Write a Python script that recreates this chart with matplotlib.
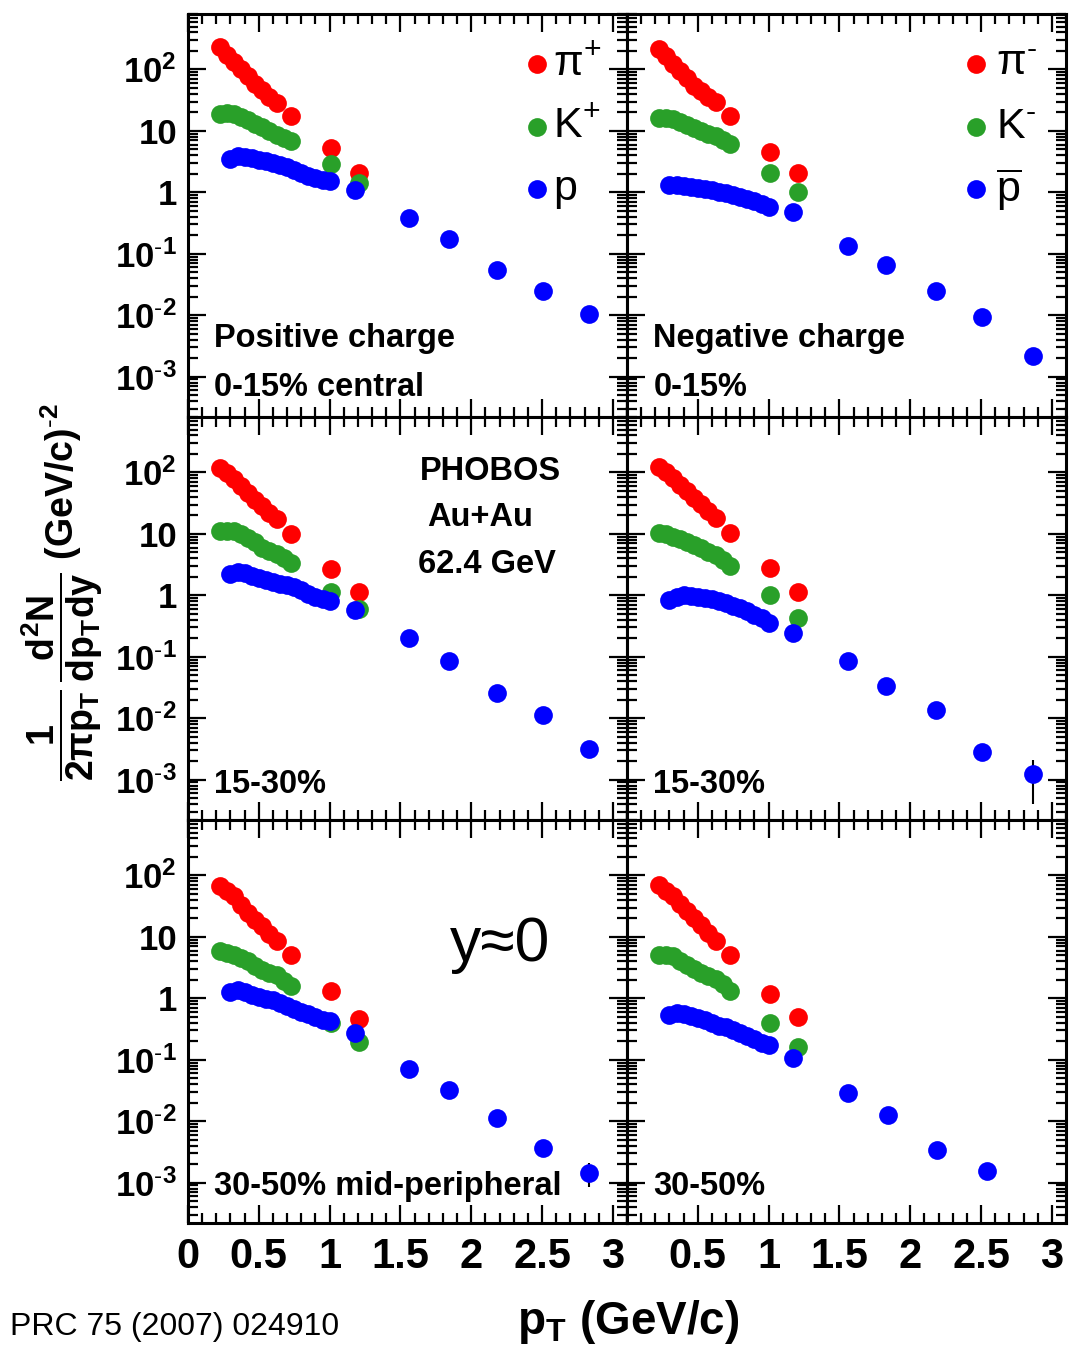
import numpy as np
import matplotlib
matplotlib.use("Agg")
import matplotlib.pyplot as plt
from matplotlib.ticker import FixedLocator, LogLocator, NullFormatter, FixedFormatter, MultipleLocator

plt.rcParams['font.family'] = ['Liberation Sans', 'DejaVu Sans']
plt.rcParams['mathtext.fontset'] = 'custom'
plt.rcParams['mathtext.rm'] = 'Liberation Sans'
plt.rcParams['mathtext.it'] = 'Liberation Sans:italic'
plt.rcParams['mathtext.bf'] = 'Liberation Sans:bold'

# ---- transverse-momentum grids (GeV/c) ----
pt_pi = [0.225, 0.275, 0.325, 0.375, 0.425, 0.475, 0.525, 0.575, 0.625, 0.725, 1.01, 1.21]
pt_k = [0.225, 0.275, 0.325, 0.375, 0.425, 0.475, 0.525, 0.575, 0.625, 0.675, 0.725, 1.01, 1.21]
pt_p = [0.30, 0.35, 0.40, 0.45, 0.50, 0.55, 0.60, 0.65, 0.70, 0.75, 0.80, 0.85, 0.90, 0.95, 1.00,
        1.18, 1.56, 1.84, 2.18, 2.51, 2.83]
pt_pbar = [0.30, 0.35, 0.40, 0.45, 0.50, 0.55, 0.60, 0.65, 0.70, 0.75, 0.80, 0.85, 0.90, 0.95, 1.00,
           1.17, 1.56, 1.83, 2.18, 2.51, 2.87]
pt_pbar_per = [0.30, 0.35, 0.40, 0.45, 0.50, 0.55, 0.60, 0.65, 0.70, 0.75, 0.80, 0.85, 0.90, 0.95, 1.00,
               1.17, 1.56, 1.84, 2.19, 2.54]

# ---- invariant yields, 0-15% ----
pip_0_15 = [230, 175, 130, 100, 78, 58, 46, 36, 28, 17.5, 5.2, 2.1]
kp_0_15 = [19, 19.5, 19, 17, 15, 13, 11.5, 10, 8.6, 7.6, 6.8, 2.9, 1.4]
p_0_15 = [3.5, 3.9, 3.8, 3.6, 3.4, 3.25, 3.0, 2.8, 2.6, 2.35, 2.05, 1.85, 1.7, 1.6, 1.55,
          1.09, 0.376, 0.177, 0.055, 0.0244, 0.0103]
pim_0_15 = [212, 165, 125, 95, 72, 53, 44, 36, 30, 17.7, 4.6, 2.09]
km_0_15 = [16.2, 16, 15.5, 14, 12.6, 11.2, 9.8, 9.0, 8.3, 7.0, 6.1, 2.09, 1.02]
pbar_0_15 = [1.31, 1.30, 1.26, 1.24, 1.18, 1.12, 1.09, 1.03, 0.96, 0.90, 0.85, 0.78, 0.72, 0.64, 0.58,
             0.47, 0.134, 0.0645, 0.0243, 0.0095, 0.0022]

# ---- invariant yields, 15-30% ----
pip_15_30 = [117, 98, 78, 60, 47, 36, 28.7, 22, 17.4, 10, 2.67, 1.12]
kp_15_30 = [11, 11.2, 11, 10, 8.7, 7.3, 6.0, 5.3, 4.7, 4.0, 3.4, 1.15, 0.6]
p_15_30 = [2.2, 2.36, 2.3, 2.1, 1.95, 1.8, 1.65, 1.55, 1.45, 1.35, 1.2, 1.05, 0.95, 0.88, 0.82,
           0.58, 0.2, 0.084, 0.026, 0.0112, 0.0032]
pim_15_30 = [125, 100, 80, 62, 50, 38, 31, 24, 18, 10.2, 2.75, 1.14]
km_15_30 = [10.2, 9.8, 9.0, 8.2, 7.5, 6.6, 5.8, 5.1, 4.5, 3.8, 3.0, 1.03, 0.42]
pbar_15_30 = [0.84, 0.95, 1.03, 0.98, 0.95, 0.90, 0.86, 0.80, 0.74, 0.68, 0.62, 0.56, 0.48, 0.42, 0.35,
              0.245, 0.085, 0.033, 0.0134, 0.0028, 0.00124]
pbar_15_30_err = [0]*20 + [0.00084]

# ---- invariant yields, 30-50% ----
pip_30_50 = [67, 55, 46, 33, 24.5, 19, 14.9, 11, 8.7, 5.0, 1.34, 0.46]
kp_30_50 = [5.8, 5.4, 5.1, 4.5, 4.0, 3.4, 2.9, 2.6, 2.4, 1.9, 1.56, 0.39, 0.198]
p_30_50 = [1.29, 1.38, 1.25, 1.12, 1.05, 0.98, 0.95, 0.85, 0.74, 0.68, 0.61, 0.55, 0.49, 0.45, 0.42,
           0.27, 0.071, 0.032, 0.0114, 0.0036, 0.00146]
p_30_50_err = [0]*20 + [0.0006]
pim_30_50 = [69, 56, 46, 34, 26, 20, 15.8, 11.5, 8.6, 5.0, 1.17, 0.50]
km_30_50 = [5.1, 5.0, 4.8, 4.1, 3.5, 3.0, 2.6, 2.3, 2.07, 1.7, 1.33, 0.39, 0.162]
pbar_30_50 = [0.54, 0.57, 0.56, 0.52, 0.48, 0.44, 0.40, 0.36, 0.336, 0.30, 0.268, 0.24, 0.216, 0.19, 0.172,
              0.107, 0.029, 0.0128, 0.0034, 0.00155]
pbar_30_50_err = [0]*19 + [0.0004]

RED, GREEN, BLUE = '#ff0000', '#29a029', '#0000ff'

panels = [
    # (row, col, pion, kaon, proton, proton pT, proton err, label lines)
    (0, 0, pip_0_15, kp_0_15, p_0_15, pt_p, None, ["Positive charge", "0-15% central"]),
    (0, 1, pim_0_15, km_0_15, pbar_0_15, pt_pbar, None, ["Negative charge", "0-15%"]),
    (1, 0, pip_15_30, kp_15_30, p_15_30, pt_p, None, ["15-30%"]),
    (1, 1, pim_15_30, km_15_30, pbar_15_30, pt_pbar, pbar_15_30_err, ["15-30%"]),
    (2, 0, pip_30_50, kp_30_50, p_30_50, pt_p, p_30_50_err, ["30-50% mid-peripheral"]),
    (2, 1, pim_30_50, km_30_50, pbar_30_50, pt_pbar_per, pbar_30_50_err, ["30-50%"]),
]

W, H = 1069, 1357
fig = plt.figure(figsize=(W / 100, H / 100), dpi=100)

x_left = [188 / W, 627 / W]
ax_w = 439 / W
row_top = [14, 417, 820]
ax_h = 403 / H
YMIN, YMAX = 2.2e-4, 800

ytick_vals = [1e-3, 1e-2, 1e-1, 1, 10, 100]
ytick_labs = [r'$\mathbf{10^{\text{-}3}}$', r'$\mathbf{10^{\text{-}2}}$', r'$\mathbf{10^{\text{-}1}}$',
              '1', '10', r'$\mathbf{10^{2}}$']

ms = 13.5
axes = {}
for row, col, pi, ka, pr, ptp, perr, labels in panels:
    bottom = 1 - (row_top[row] + 403) / H
    ax = fig.add_axes([x_left[col], bottom, ax_w, ax_h])
    axes[(row, col)] = ax
    ax.set_yscale('log')
    ax.set_xlim(0, 3.1)
    ax.set_ylim(YMIN, YMAX)

    ax.plot(pt_pi, pi, 'o', color=RED, ms=ms, mec='none', zorder=3)
    ax.plot(pt_k, ka, 'o', color=GREEN, ms=ms, mec='none', zorder=4)
    if perr is not None:
        ax.errorbar(ptp, pr, yerr=perr, fmt='none', ecolor='black', elinewidth=1.5, capsize=0, zorder=4.5)
    ax.plot(ptp, pr, 'o', color=BLUE, ms=ms, mec='none', zorder=5)

    for s in ax.spines.values():
        s.set_linewidth(2.2)
    ax.xaxis.set_major_locator(MultipleLocator(0.5))
    ax.xaxis.set_minor_locator(MultipleLocator(0.1))
    ax.yaxis.set_major_locator(FixedLocator(ytick_vals))
    ax.yaxis.set_minor_locator(LogLocator(base=10, subs=np.arange(2, 10), numticks=20))
    ax.yaxis.set_minor_formatter(NullFormatter())
    ax.tick_params(which='both', direction='in', top=True, right=True, width=1.6)
    ax.tick_params(which='major', length=13)
    ax.tick_params(which='minor', length=7)
    ax.tick_params(axis='x', which='major', labelsize=30, pad=10)

    if col == 0:
        ax.yaxis.set_major_formatter(FixedFormatter(ytick_labs))
        ax.tick_params(axis='y', which='major', labelsize=25, pad=8)
        for t in ax.get_yticklabels():
            t.set_fontweight('bold')
    else:
        ax.set_yticklabels([])

    if row == 2:
        ticks = [0, 0.5, 1, 1.5, 2, 2.5, 3]
        labs = ['0', '0.5', '1', '1.5', '2', '2.5', '3']
        if col == 1:
            labs[0] = ''
        ax.set_xticks(ticks)
        ax.set_xticklabels(labs, fontweight='bold')
    else:
        ax.set_xticklabels([])

    # centrality / charge captions
    if len(labels) == 2:
        ax.text(0.06, 0.195, labels[0], transform=ax.transAxes, fontsize=23.5,
                fontweight='bold', va='center', ha='left')
        ax.text(0.06, 0.072, labels[1], transform=ax.transAxes, fontsize=23.5,
                fontweight='bold', va='center', ha='left')
    else:
        ax.text(0.06, 0.087 if row == 1 else 0.09, labels[0], transform=ax.transAxes,
                fontsize=23.5, fontweight='bold', va='center', ha='left')

# legends
def legend_entries(ax, x_mark, x_text, names):
    ys = [0.875, 0.72, 0.565]
    for yy, (c, name) in zip(ys, names):
        ax.plot([x_mark], [yy], 'o', color=c, ms=ms, mec='none', transform=ax.transAxes,
                clip_on=False, zorder=6)
        ax.text(x_text, yy, name, transform=ax.transAxes, fontsize=31, va='center', ha='left')

legend_entries(axes[(0, 0)], (537 - 188) / 439, (553 - 188) / 439,
               [(RED, r'π$^{+}$'), (GREEN, r'K$^{+}$'), (BLUE, 'p')])
legend_entries(axes[(0, 1)], (976 - 627) / 439, (996 - 627) / 439,
               [(RED, r'π$^{\text{-}}$'), (GREEN, r'K$^{\text{-}}$'), (BLUE, r'$\overline{\mathrm{p}}$')])

# collision system
axm = axes[(1, 0)]
axm.text(0.69, 0.865, 'PHOBOS', transform=axm.transAxes, fontsize=23.5, fontweight='bold',
         ha='center', va='center')
axm.text(0.665, 0.75, 'Au+Au', transform=axm.transAxes, fontsize=23.5, fontweight='bold',
         ha='center', va='center')
axm.text(0.68, 0.635, '62.4 GeV', transform=axm.transAxes, fontsize=23.5, fontweight='bold',
         ha='center', va='center')

axb = axes[(2, 0)]
axb.text(0.712, 0.69, 'y≈0', transform=axb.transAxes, fontsize=45,
         ha='center', va='center')

# axis titles
fig.text(628 / W, 1 - 1322 / H, r'$\mathbf{p_{T}}$ (GeV/c)', fontsize=33, fontweight='bold',
         ha='center', va='center')
fig.text(62 / W, 1 - 592 / H,
         r'$\mathbf{\dfrac{1}{2\pi p_{T}}\,\dfrac{d^{2}N}{dp_{T}dy}}$ (GeV/c)$^{\mathbf{\text{-}2}}$',
         fontsize=27, fontweight='bold', rotation=90, ha='center', va='center')

fig.text(10 / W, 1 - 1327 / H, 'PRC 75 (2007) 024910', fontsize=23, ha='left', va='center')

fig.savefig('out.png', dpi=100)
